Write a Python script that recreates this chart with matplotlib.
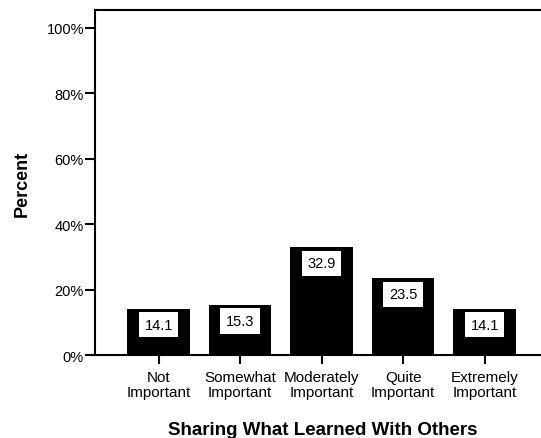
import numpy as np
import matplotlib.pyplot as plt

plt.rcParams['font.family'] = ['Liberation Sans', 'DejaVu Sans']

categorias = ['Not\nImportant', 'Somewhat\nImportant', 'Moderately\nImportant',
              'Quite\nImportant', 'Extremely\nImportant']
percentuais = [14.1, 15.3, 32.9, 23.5, 14.1]
ticks_y = [0, 20, 40, 60, 80, 100]

fig = plt.figure(figsize=(5.41, 4.39), dpi=100)
ax = fig.add_axes([0.1756, 0.189, 0.8406, 0.786])

x = np.arange(len(categorias))
ax.bar(x, percentuais, width=0.77, color='black')

# rotulos em caixa branca no topo de cada barra
for xi, v in zip(x, percentuais):
    ax.annotate('%.1f' % v, (xi, v), xytext=(0, -6.5), textcoords='offset points',
                ha='center', va='top', fontsize=10.5,
                bbox=dict(boxstyle='square,pad=0.38', fc='white', ec='none'))

ax.set_xlim(-0.78, 4.8)
ax.set_ylim(0, 105.5)
ax.set_yticks(ticks_y)
ax.set_yticklabels(['%d%%' % t for t in ticks_y], fontsize=10.5)
ax.set_xticks(x)
ax.set_xticklabels(categorias, fontsize=11, linespacing=1.1)

ax.spines['right'].set_visible(False)
for s in ['left', 'bottom', 'top']:
    ax.spines[s].set_linewidth(1.5)
ax.tick_params(axis='y', length=7, width=1.5, pad=1)
ax.tick_params(axis='x', length=6.5, width=1.5, pad=4)

ax.set_xlabel('Sharing What Learned With Others', fontsize=13.5, fontweight='bold', labelpad=16)
ax.set_ylabel('Percent', fontsize=13, fontweight='bold', labelpad=11)

plt.savefig('out.png', dpi=100)
